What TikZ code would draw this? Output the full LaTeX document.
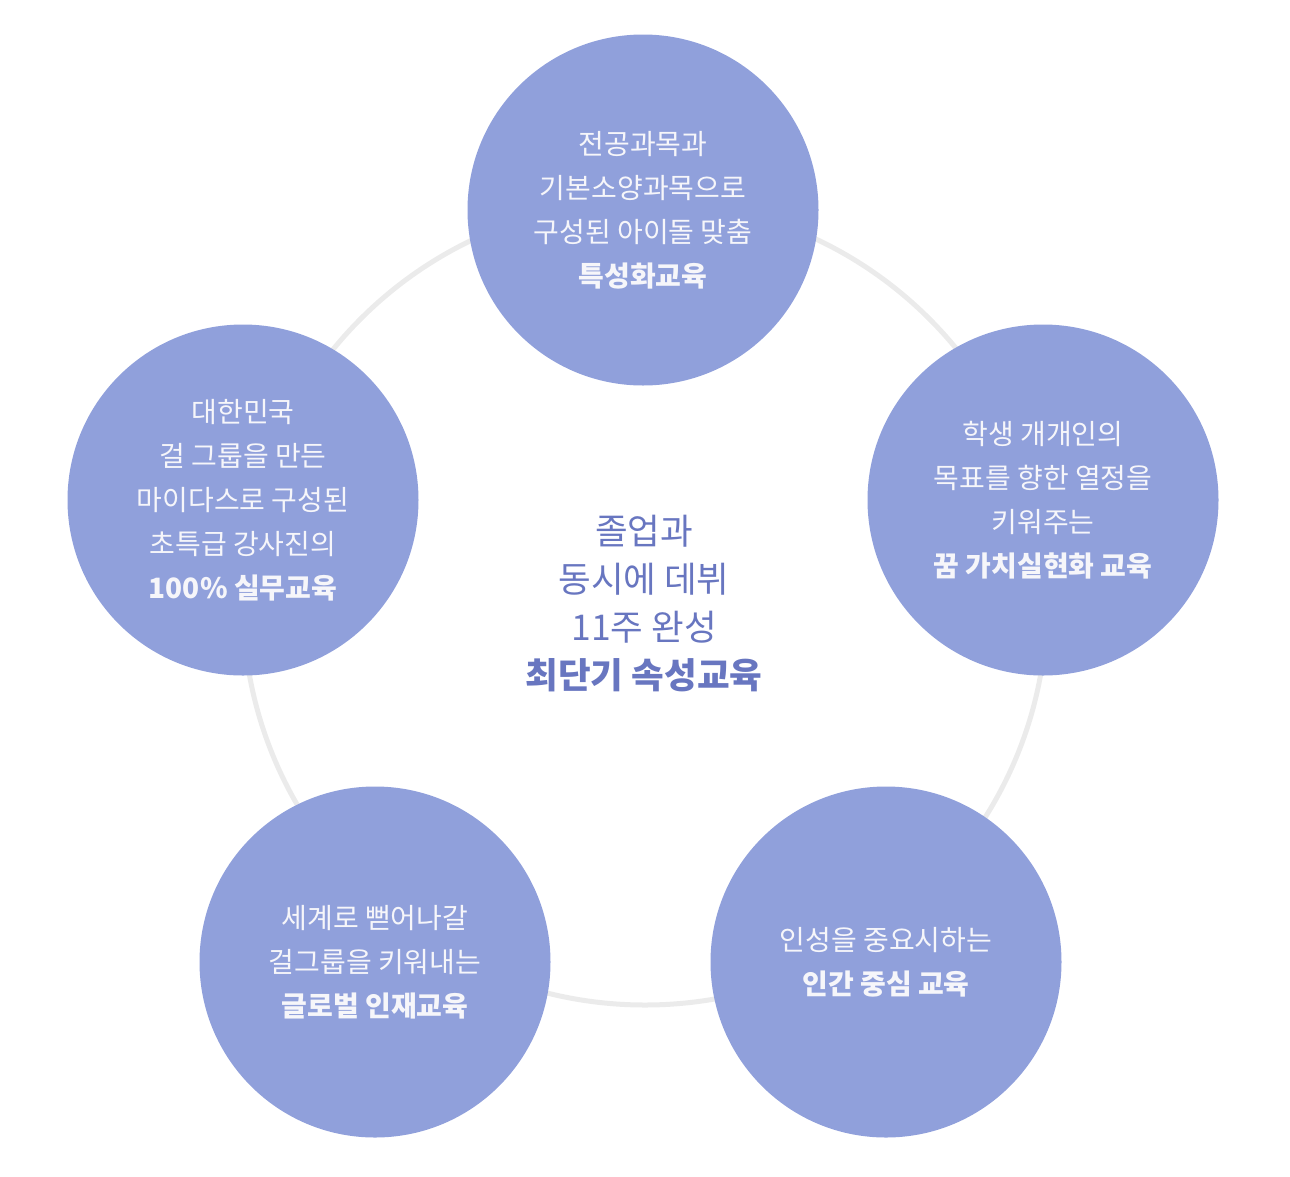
\documentclass[tikz,border=0pt]{standalone}
\usepackage{fontspec}
\newfontfamily\kr{Noto Sans CJK KR}
\definecolor{bubblefill}{RGB}{144,160,219}
\definecolor{ringgray}{RGB}{235,235,235}
\definecolor{centertext}{RGB}{104,118,192}
\definecolor{bubbletext}{RGB}{246,246,250}
\tikzset{
  bubble/.style={circle, fill=bubblefill, minimum size=351pt, inner sep=0pt,
    text=bubbletext, align=center, font=\kr\fontsize{28}{44}\selectfont},
  ringline/.style={circle, draw=ringgray, line width=5pt, minimum size=804pt, inner sep=0pt},
  centerlabel/.style={text=centertext, align=center, font=\kr\fontsize{35.5}{48}\selectfont}
}
\begin{document}
\begin{tikzpicture}[x=1pt,y=1pt]
\useasboundingbox (0,0) rectangle (1290,-1176);
\node[ringline] (ring) at (645,-603) {};
\node[bubble] (top) at (643,-210) {전공과목과\\기본소양과목으로\\구성된 아이돌 맞춤\\\textbf{특성화교육}};
\node[bubble] (left) at (243,-500) {대한민국\\걸 그룹을 만든\\마이다스로 구성된\\초특급 강사진의\\\textbf{100\% 실무교육}};
\node[bubble] (right) at (1043,-500) {학생 개개인의\\목표를 향한 열정을\\키워주는\\\textbf{꿈 가치실현화 교육}};
\node[bubble] (botleft) at (375,-962) {세계로 뻗어나갈\\걸그룹을 키워내는\\\textbf{글로벌 인재교육}};
\node[bubble] (botright) at (886,-962) {인성을 중요시하는\\\textbf{인간 중심 교육}};
\node[centerlabel] (center) at (644,-604) {졸업과\\동시에 데뷔\\11주 완성\\\textbf{최단기 속성교육}};
\end{tikzpicture}
\end{document}
